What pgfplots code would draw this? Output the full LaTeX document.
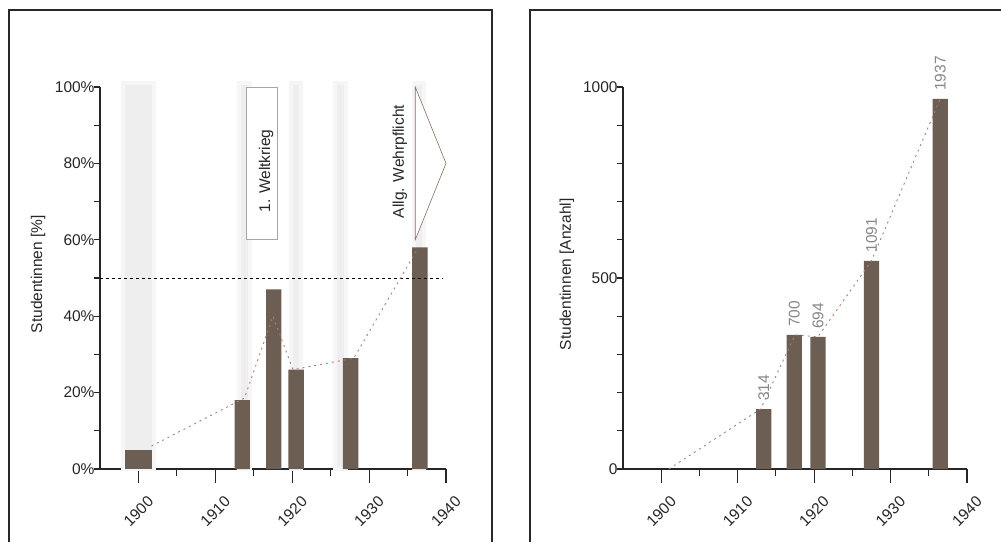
\documentclass[border=0pt]{standalone}
\usepackage{fontspec}
\setmainfont{Liberation Sans}
\usepackage{pgfplots}
\usepackage{pgfplotstable}
\pgfplotsset{compat=1.18}

\definecolor{barbrown}{RGB}{108,94,82}
\definecolor{trendred}{RGB}{175,125,115}
\definecolor{framegray}{RGB}{40,40,40}
\definecolor{ghost}{RGB}{238,238,238}
\definecolor{ghostedge}{RGB}{246,246,246}
\definecolor{countgray}{RGB}{135,135,135}
\definecolor{arrowbrown}{RGB}{140,110,95}
\newcommand{\fs}{\fontsize{15.5}{18}\selectfont}

% share of women students (%), bars as drawn
\pgfplotstableread{
year share
1913.5 18
1917.6 47
1920.5 26
1927.6 29
1936.6 58
}\shareBars

\pgfplotstableread{
year share
1901.7 6
1913.8 18.6
1917.5 40
1920.1 26
1928.0 29
1936.4 58
}\shareTrend

% counts: bar height on the axis and the printed number
\pgfplotstableread{
year height count
1913.4 157 314
1917.4 351 700
1920.5 346 694
1927.5 545 1091
1936.5 969 1937
}\countBars

\pgfplotstableread{
year n
1901 0
1913 157
1917.5 351
1920.5 346
1927.5 545
1936.5 969
}\countTrend

\pgfplotsset{
  studstyle/.style={
    scale only axis, height=382pt,
    xmin=1895, xmax=1940, ymin=0,
    axis x line*=bottom, axis y line*=left,
    axis line style={-, line width=1.2pt, black!85},
    tick align=outside,
    xtick={1900,1910,...,1940},
    minor xtick={1905,1915,...,1935},
    xtick style={line width=1.2pt, black!85, /pgfplots/major tick length=14pt, /pgfplots/minor tick length=7pt},
    ytick style={line width=1.2pt, black!85, /pgfplots/major tick length=6pt, /pgfplots/minor tick length=6pt},
    /pgf/number format/assume math mode=true,
    /pgf/number format/1000 sep={},
    tick label style={font=\fs, text=black!85},
    xticklabel style={yshift=-38pt, rotate=45, anchor=center},
    yticklabel style={inner sep=1pt},
    label style={font=\fs, text=black!85},
    clip=false,
  }
}

\begin{document}
\begin{tikzpicture}[x=1pt,y=1pt]
\useasboundingbox (0,0) rectangle (1001,542);
\draw[framegray, line width=1.4pt] (9,0) -- (9,532) -- (492,532) -- (492,0);
\draw[framegray, line width=1.4pt] (530,0) -- (530,532) -- (1001,532);

\begin{axis}[studstyle, at={(100pt,73pt)}, anchor=south west,
  width=346pt, ymax=100,
  ytick={0,20,...,100}, minor ytick={10,30,...,90},
  yticklabel={\pgfmathprintnumber{\tick}\%},
  ylabel={Studentinnen [\%]},
  ylabel style={at={(axis description cs:-0.179,0.51)}, anchor=center},
]
\addplot[ybar, bar shift=0pt, bar width=4.0, fill=ghost, draw=ghostedge, line width=4pt] coordinates {(1900,101)};
\addplot[ybar, bar shift=0pt, bar width=1.4, fill=ghost, draw=ghostedge, line width=4pt] coordinates {(1913.8,101)(1920.5,101)(1926.3,101)(1936.5,101)};

\draw[gray!70, line width=0.7pt, fill=white] (axis cs:1914,60) rectangle (axis cs:1918.1,100);
\node[rotate=90, font=\fs, text=black!85] at (axis cs:1916.6,78) {1. Weltkrieg};
\draw[arrowbrown, line width=0.6pt, fill=white] (axis cs:1936,100) -- (axis cs:1940,80) -- (axis cs:1936,60) -- cycle;
\node[rotate=90, font=\fs, text=black!85] at (axis cs:1934,80.5) {Allg. Wehrpflicht};

\addplot[ybar, bar shift=0pt, bar width=3.4, fill=barbrown, draw=none] coordinates {(1900,5)};
\addplot[ybar, bar shift=0pt, bar width=2, fill=barbrown, draw=none] table[x=year, y=share] {\shareBars};

\addplot[black, dash pattern=on 3pt off 3pt, line width=0.9pt] coordinates {(1895,50)(1939.5,50)};
\addplot[trendred, dash pattern=on 2pt off 4pt, line width=0.9pt] table[x=year, y=share] {\shareTrend};
\end{axis}

\begin{axis}[studstyle, at={(623pt,73pt)}, anchor=south west,
  width=344pt, ymax=1000,
  ytick={0,500,1000}, minor ytick={100,200,...,900},
  ylabel={Studentinnen [Anzahl]},
  ylabel style={at={(axis description cs:-0.163,0.51)}, anchor=center},
]
\addplot[ybar, bar shift=0pt, bar width=2, fill=barbrown, draw=none,
  nodes near coords, point meta=explicit symbolic,
  every node near coord/.append style={yshift=6pt, rotate=90, anchor=west, font=\fs, text=countgray, inner sep=2pt}]
  table[x=year, y=height, meta=count] {\countBars};
\addplot[trendred, dash pattern=on 2pt off 4pt, line width=0.9pt] table[x=year, y=n] {\countTrend};
\end{axis}
\end{tikzpicture}
\end{document}
